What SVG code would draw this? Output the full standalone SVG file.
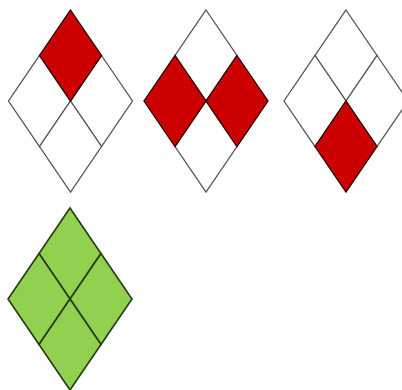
<svg xmlns="http://www.w3.org/2000/svg" width="402" height="390" viewBox="0 0 402 390">
<style>
.w{fill:#ffffff;stroke:#555555;stroke-width:1.3;stroke-linejoin:miter}
.r{fill:#cc0000;stroke:#2a0000;stroke-width:1.3}
.g{fill:#92d050;stroke:#243a14;stroke-width:1.6}
</style>
<defs>
<polygon id="top" points="0,-91 31,-45.5 0,0 -31,-45.5"/>
<polygon id="left" points="-31,-45.5 0,0 -31,45.5 -62,0"/>
<polygon id="right" points="31,-45.5 62,0 31,45.5 0,0"/>
<polygon id="bot" points="0,0 31,45.5 0,91 -31,45.5"/>
</defs>
<rect width="402" height="390" fill="#ffffff"/>
<g id="diamond1" transform="translate(70.5,101)">
<use href="#left" class="w"/><use href="#right" class="w"/><use href="#bot" class="w"/><use href="#top" class="r"/>
</g>
<g id="diamond2" transform="translate(206,101)">
<use href="#top" class="w"/><use href="#bot" class="w"/><use href="#left" class="r"/><use href="#right" class="r"/>
</g>
<g id="diamond3" transform="translate(346,101)">
<use href="#top" class="w"/><use href="#left" class="w"/><use href="#right" class="w"/><use href="#bot" class="r"/>
</g>
<g id="diamond4" transform="translate(70,299)">
<use href="#top" class="g"/><use href="#left" class="g"/><use href="#right" class="g"/><use href="#bot" class="g"/>
</g>
</svg>
